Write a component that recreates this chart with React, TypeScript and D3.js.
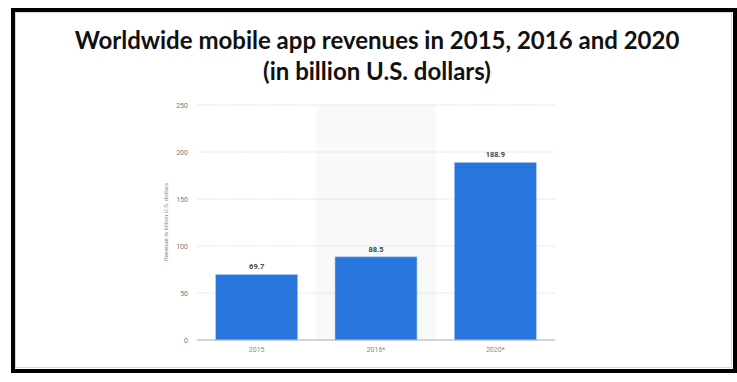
import React from "react";
import * as d3 from "d3";

const categories = ["2015", "2016*", "2020*"];
const values = [69.7, 88.5, 188.9];
const yTicks = [0, 50, 100, 150, 200, 250];
const titleLines = ["Worldwide mobile app revenues in 2015, 2016 and 2020", "(in billion U.S. dollars)"];
const yAxisTitle = "Revenue in billion U.S. dollars";
const highlighted = "2016*";

const W = 737;
const H = 382;

export default function App() {
  const x = d3.scaleBand<string>().domain(categories).range([197, 555]).paddingInner(0.313).paddingOuter(0.1565);
  const y = d3.scaleLinear().domain([0, 250]).range([340, 105]);
  const step = x.step();
  const hx = (x(highlighted) as number) - (step - x.bandwidth()) / 2;

  return (
    <svg width={W} height={H} style={{ position: "absolute", left: 0, top: 0, background: "#fff" }}>
      <rect x={0} y={0} width={W} height={H} fill="#fff" />
      <rect x={15.5} y={12.5} width={716} height={355} fill="none" stroke="#d8d8d8" strokeWidth={1} />
      <rect x={13} y={10} width={722} height={361} fill="none" stroke="#000" strokeWidth={4} />
      {titleLines.map((t, i) => (
        <text key={i} x={377} y={49 + i * 31} textAnchor="middle" fontFamily="Lato" fontWeight={700} fontSize={24} fill="#111">
          {t}
        </text>
      ))}
      <rect x={hx} y={y(250)} width={step} height={y(0) - y(250)} fill="#f9f9f9" />
      {yTicks.map((t) => (
        <g key={t}>
          {t > 0 && <line x1={197} x2={555} y1={y(t)} y2={y(t)} stroke="#d6d6d6" strokeWidth={0.8} strokeDasharray="1.5,1" />}
          <text x={188} y={y(t) + 2.5} textAnchor="end" fontFamily="Roboto" fontSize={7} fill="#777">
            {t}
          </text>
        </g>
      ))}
      <text transform={`translate(168,222) rotate(-90)`} textAnchor="middle" fontFamily="Roboto" fontSize={6} fill="#888">
        {yAxisTitle}
      </text>
      {categories.map((c, i) => (
        <g key={c}>
          <rect x={x(c)} y={y(values[i])} width={x.bandwidth()} height={y(0) - y(values[i])} fill="#2876dd" stroke="#a9c9f2" strokeWidth={0.6} />
          <text x={(x(c) as number) + x.bandwidth() / 2} y={y(values[i]) - 5} textAnchor="middle" fontFamily="Roboto" fontWeight={700} fontSize={7.5} fill="#444">
            {values[i]}
          </text>
          <text x={(x(c) as number) + x.bandwidth() / 2} y={352} textAnchor="middle" fontFamily="Roboto" fontSize={7} fill="#888">
            {c}
          </text>
        </g>
      ))}
      <line x1={197} x2={555} y1={y(0)} y2={y(0)} stroke="#aaa" strokeWidth={1} />
    </svg>
  );
}
